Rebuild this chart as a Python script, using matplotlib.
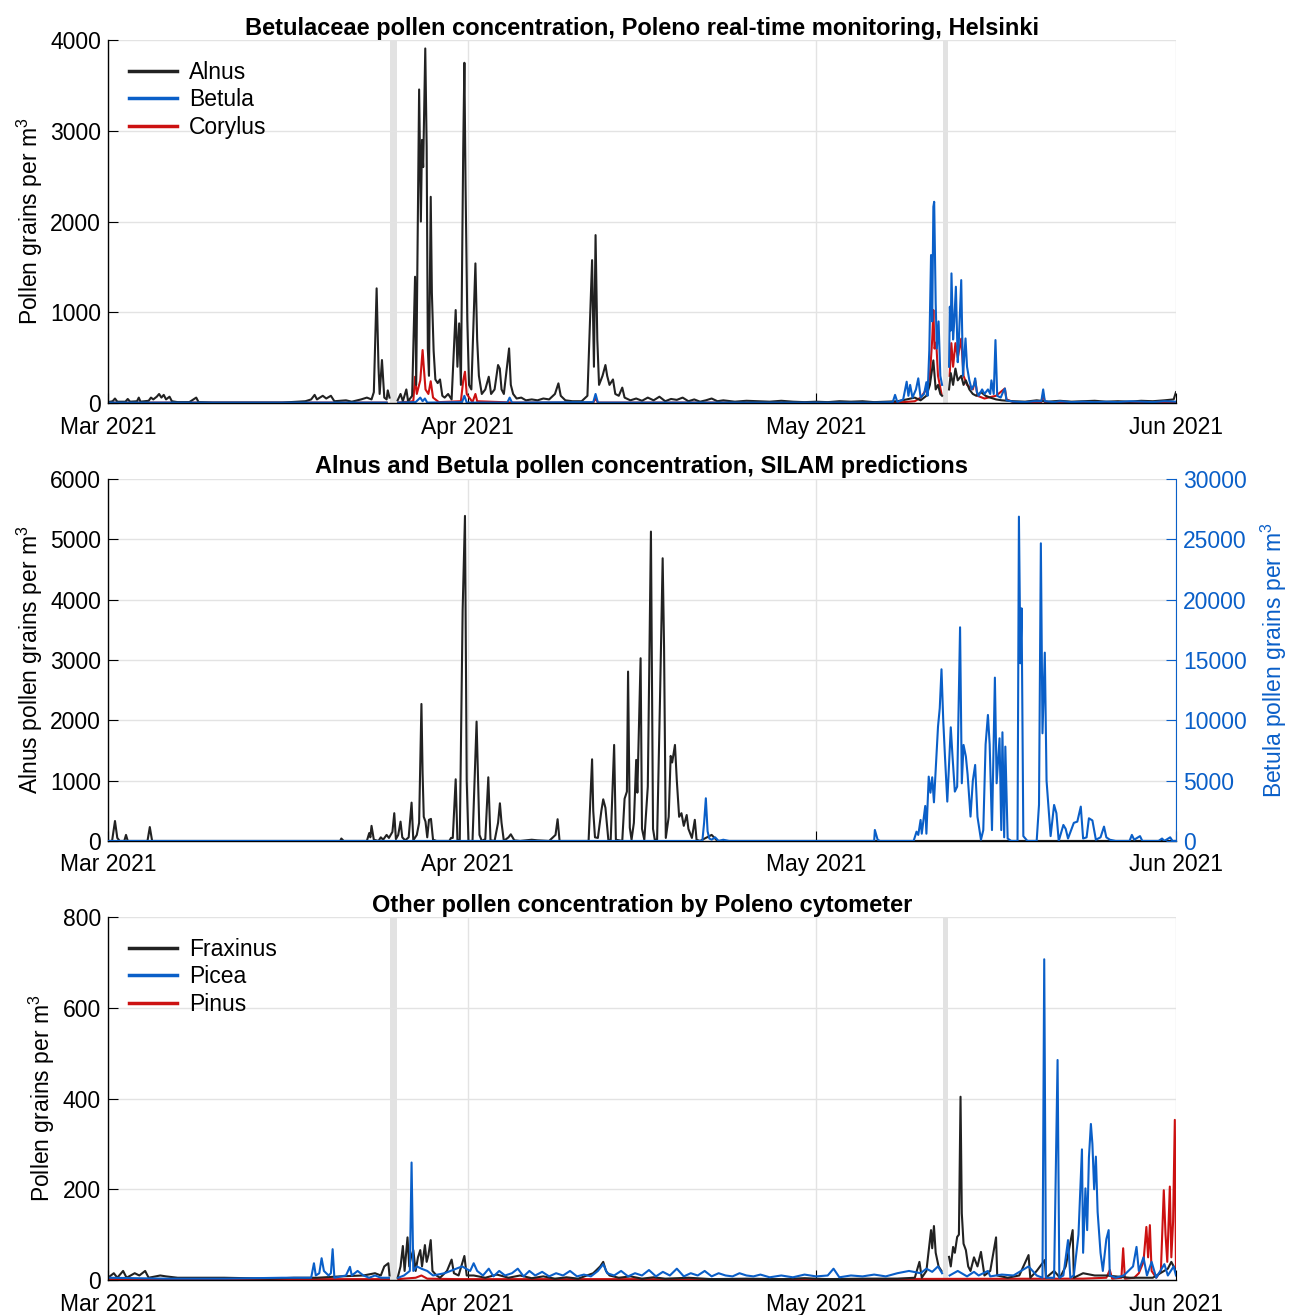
import numpy as np
import matplotlib
matplotlib.use("Agg")
import matplotlib.pyplot as plt

plt.rcParams['font.family'] = ['Liberation Sans', 'DejaVu Sans']
plt.rcParams['mathtext.fontset'] = 'custom'
plt.rcParams['mathtext.rm'] = 'Liberation Sans'
plt.rcParams['mathtext.it'] = 'Liberation Sans:italic'

nan = np.nan

# x values are days since 1 Mar 2021
month_ticks = [0, 31, 61, 92]
month_labels = ['Mar 2021', 'Apr 2021', 'May 2021', 'Jun 2021']
gap_days = [(24.3, 24.9), (71.9, 72.4)]

# ---- panel 1: Poleno Betulaceae ----
alnus_day = [0.0, 0.4, 0.6, 0.8, 1.5, 1.7, 1.9, 2.5, 2.65, 2.8, 3.5, 3.7, 3.9, 4.2, 4.4, 4.6, 4.8, 5.0, 5.3, 5.5,
             6.0, 7.0, 7.6, 7.8, 9, 12, 15, 17.0, 17.5, 17.8, 18.0, 18.5, 18.8, 19.2, 19.5, 20.5, 21.0, 21.8, 22.3,
             22.7, 22.9, 23.14, 23.3, 23.4, 23.6, 23.8, 24.0, 24.1, 24.25, 24.6, 24.95, 25.2, 25.4, 25.7, 25.85,
             26.2, 26.45, 26.55, 26.8, 26.95, 27.05, 27.15, 27.33, 27.45, 27.55, 27.65, 27.8, 27.9, 28.05, 28.2,
             28.4, 28.6, 28.8, 29.0, 29.3, 29.6, 29.95, 30.1, 30.25, 30.4, 30.6, 30.7, 30.8, 30.95, 31.1, 31.3,
             31.65, 31.8, 31.95, 32.2, 32.5, 32.8, 33.0, 33.3, 33.6, 33.75, 33.9, 34.1, 34.55, 34.7, 34.9, 35.2,
             35.6, 36, 36.5, 37, 37.5, 38.0, 38.5, 38.8, 39.0, 39.4, 40, 40.8, 41.3, 41.7, 41.86, 42.0, 42.15, 42.3,
             42.6, 42.85, 43.0, 43.2, 43.5, 43.7, 44.0, 44.3, 44.5, 45, 45.5, 46, 46.5, 47, 47.5, 48, 48.5, 49,
             49.5, 50, 50.5, 51, 51.5, 52, 52.5, 53, 54, 55, 56, 57, 58, 59, 60, 61, 62, 63, 64, 65, 66, 67, 68,
             68.8, 69.5, 70.0, 70.5, 70.8, 71.1, 71.3,
             71.5, 71.7, 71.85, 72.1, 72.45, 72.6, 72.8, 73.0, 73.2, 73.5, 73.7, 73.9, 74.2, 74.5, 74.8, 75.2,
             75.6, 76, 76.5, 77, 78, 79, 80, 81, 82, 83, 84, 85, 86, 87, 88, 89, 90, 91, 91.8, 92]
alnus_val = [10, 20, 50, 15, 15, 45, 15, 20, 60, 15, 25, 60, 40, 70, 100, 60, 90, 40, 70, 20,
             10, 10, 60, 10, 5, 5, 5, 20, 40, 90, 40, 80, 50, 80, 20, 30, 15, 40, 60,
             40, 120, 1264, 400, 100, 474, 60, 40, 140, 60, nan, 30, 100, 20, 150, 20,
             80, 1392, 200, 3456, 2000, 2900, 2600, 3908, 2824, 600, 300, 2273, 1212, 577, 260,
             220, 260, 80, 60, 100, 40, 1025, 400, 878, 200, 2800, 3750, 2400, 915, 200, 150,
             1539, 700, 300, 100, 150, 290, 100, 150, 419, 380, 150, 100, 602, 200, 100, 50,
             60, 30, 40, 30, 50, 40, 100, 217, 80, 30, 20, 20, 80, 1575, 400, 1851, 700, 200,
             300, 419, 300, 200, 260, 100, 80, 170, 60, 30, 50, 25, 60, 30, 70, 20, 45, 35,
             60, 20, 40, 15, 30, 50, 20, 30, 15, 25, 20, 15, 25, 15, 10, 15, 10, 20, 15, 20, 10, 15, 20,
             40, 60, 30, 80, 200, 470, 150,
             200, 100, 80, nan, 150, 330, 200, 380, 250, 300, 200, 250, 150, 100, 80, 120,
             80, 60, 40, 30, 20, 15, 30, 15, 25, 15, 20, 25, 15, 20, 15, 25, 20, 30, 40, 120]

betula_day = [0, 10, 20, 24.0, 24.6, 25.0, 26.5, 26.9, 27.1, 27.3, 27.5, 30.5, 30.7, 30.9, 34.4, 34.6, 34.8,
              41.8, 42.0, 42.2, 50, 60, 66, 67.6, 67.8, 68.0, 68.5, 68.8, 68.95, 69.1, 69.3, 69.6, 69.8, 70.0,
              70.3, 70.5, 70.6, 70.75, 70.9, 71.0, 71.1, 71.17, 71.3, 71.4, 71.55, 71.7, 71.85, 72.1, 72.45,
              72.52, 72.6, 72.66, 72.8, 72.9, 73.04, 73.2, 73.3, 73.5, 73.65, 73.87, 74.0, 74.2, 74.4, 74.6,
              74.7, 74.85, 75.0, 75.3, 75.5, 75.8, 76.0, 76.1, 76.3, 76.45, 76.6, 76.9, 77.1, 77.26, 77.4, 78,
              79, 79.8, 80.4, 80.56, 80.7, 81.5, 82, 83, 84, 85, 86, 87, 88, 89, 90, 91, 92]
betula_val = [5, 5, 5, 5, nan, 5, 10, 60, 20, 50, 5, 10, 80, 5, 5, 60, 5,
              10, 100, 5, 5, 5, 5, 10, 90, 10, 40, 235, 80, 200, 60, 150, 272, 60,
              100, 230, 80, 584, 1631, 900, 2163, 2218, 1100, 600, 900, 300, 200, nan, 400,
              1062, 800, 1429, 700, 900, 1282, 450, 700, 1355, 300, 712, 400, 250, 150, 200,
              272, 120, 80, 150, 100, 150, 100, 250, 100, 694, 80, 60, 120, 160, 30, 15,
              10, 20, 20, 150, 20, 10, 20, 10, 15, 10, 15, 10, 20, 15, 10, 20, 15]

corylus_day = [0, 10, 20, 24.0, 24.6, 25.0, 26.3, 26.45, 26.6, 26.9, 27.1, 27.2, 27.35, 27.6, 27.8, 28.0, 28.5,
               30.4, 30.6, 30.75, 30.9, 31.4, 31.65, 31.8, 35, 41.8, 42.0, 42.2, 50, 60, 68, 69.5, 70.0, 70.5,
               70.8, 71.0, 71.1, 71.2, 71.35, 71.5, 71.8, 72.1, 72.5, 72.65, 72.8, 73.0, 73.2, 73.5, 73.7, 74.0,
               74.5, 74.7, 74.9, 75.5, 76.5, 77.26, 77.4, 78, 80.4, 80.56, 80.7, 82, 86, 92]
corylus_val = [5, 5, 5, 5, nan, 5, 20, 290, 100, 250, 584, 400, 150, 100, 240, 60, 10,
               20, 250, 345, 100, 10, 100, 20, 5, 5, 50, 5, 5, 5, 5, 20, 60, 150,
               300, 700, 1025, 600, 668, 300, 100, nan, 300, 660, 400, 660, 500, 710, 300, 200,
               150, 253, 80, 50, 80, 160, 40, 10, 10, 100, 10, 5, 5, 5]

# ---- panel 2: SILAM ----
silam_alnus_day = [0.0, 0.35, 0.6, 0.8, 1.0, 1.4, 1.55, 1.7, 3.4, 3.6, 3.8, 20.0, 20.1, 20.3, 22.3, 22.5, 22.6,
                   22.7, 22.9, 23.3, 23.5, 23.7, 24.0, 24.2, 24.5, 24.66, 24.8, 25.0, 25.2, 25.35, 25.6, 25.9,
                   26.15, 26.3, 26.6, 26.8, 27.0, 27.1, 27.2, 27.35, 27.5, 27.65, 27.82, 28.0, 28.3, 29.4, 29.55,
                   29.7, 29.95, 30.1, 30.3, 30.55, 30.75, 30.9, 31.05, 31.4, 31.75, 32.0, 32.2, 32.5, 32.76,
                   32.95, 33.3, 33.6, 33.76, 33.9, 34.1, 34.5, 34.7, 35.0, 35.5, 36.5, 37, 38.0, 38.55, 38.73,
                   38.9, 41.4, 41.7, 41.8, 41.95, 42.2, 42.5, 42.66, 42.85, 43.1, 43.3, 43.6, 43.75, 44.3, 44.5,
                   44.7, 44.8, 44.95, 45.1, 45.3, 45.5, 45.6, 45.88, 46.0, 46.2, 46.5, 46.77, 46.95, 47.1, 47.3,
                   47.55, 47.78, 47.9, 48.05, 48.3, 48.47, 48.6, 48.84, 49.0, 49.2, 49.4, 49.6, 49.85, 50.0,
                   50.3, 50.55, 50.7, 51.0, 51.5, 52, 52.5, 60, 92]
silam_alnus_val = [0, 0, 330, 50, 0, 0, 100, 0, 0, 230, 0, 0, 40, 0, 0, 130, 60,
                   250, 20, 0, 60, 20, 100, 50, 150, 460, 30, 100, 320, 60, 10, 60,
                   635, 10, 100, 300, 2270, 1120, 400, 320, 60, 350, 365, 20, 0, 0, 50,
                   50, 1022, 20, 0, 3830, 5387, 1000, 0, 0, 1978, 100, 0, 30, 1055,
                   10, 0, 300, 624, 300, 0, 60, 110, 10, 0, 20, 10, 0, 100, 360,
                   0, 0, 1353, 500, 60, 50, 500, 690, 550, 20, 0, 1591, 20, 0, 700,
                   818, 2807, 220, 20, 300, 1343, 800, 3028, 200, 20, 900, 5127, 200, 20, 20,
                   2337, 4685, 3221, 50, 400, 1409, 1300, 1591, 1000, 400, 460, 250, 430, 200,
                   50, 350, 20, 0, 50, 100, 0, 0, 0]

silam_betula_day = [0, 51.2, 51.35, 51.5, 51.65, 51.8, 52.0, 52.3, 52.6, 53, 53.5, 66.0, 66.06, 66.3, 66.5,
                    69.4, 69.65, 69.8, 70.0, 70.1, 70.4, 70.5, 70.7, 70.85, 71.0, 71.15, 71.5, 71.65, 71.8,
                    71.95, 72.1, 72.3, 72.6, 72.75, 72.95, 73.15, 73.4, 73.55, 73.7, 73.9, 74.05, 74.3, 74.5,
                    74.7, 74.9, 75.2, 75.4, 75.6, 75.8, 75.95, 76.15, 76.4, 76.55, 76.8, 76.95, 77.05, 77.2,
                    77.3, 77.5, 77.8, 78.35, 78.47, 78.6, 78.7, 78.85, 79.2, 80.0, 80.2, 80.36, 80.5, 80.7,
                    80.85, 81.2, 81.5, 81.7, 81.9, 82.3, 82.5, 82.7, 83.2, 83.5, 83.8, 84.0, 84.3, 84.5, 84.8,
                    85.1, 85.5, 85.8, 86.0, 86.3, 86.8, 88.0, 88.2, 88.4, 88.9, 89.1, 90.5, 90.8, 91.0, 91.5,
                    91.7, 92]
silam_betula_val = [0, 0, 1500, 3536, 800, 200, 100, 300, 0, 100, 0, 0, 911, 100, 0,
                    0, 770, 500, 1740, 600, 2900, 600, 5330, 4000, 5275, 3200, 9473, 11000, 14224,
                    10000, 7000, 3260, 9418, 7000, 4088, 4500, 17704, 4778, 7955, 7000, 5500, 2016, 5000,
                    6297, 2000, 100, 900, 8000, 10440, 8000, 900, 13534, 4778, 8507, 900, 9004, 300,
                    7816, 200, 0, 0, 26874, 14722, 19279, 400, 0, 0, 3000, 24664, 8921, 15605,
                    5000, 400, 2983, 2300, 0, 1326, 1000, 200, 1500, 1600, 2845, 200, 300, 1878, 1700,
                    100, 300, 1188, 300, 100, 0, 0, 500, 100, 400, 0, 0, 200, 0, 300,
                    0, 0]

# ---- panel 3: other pollen ----
fraxinus_day = [0, 0.5, 0.8, 1.3, 1.6, 2.3, 2.7, 3.2, 3.5, 4.5, 5, 6, 8, 10, 14, 16, 18, 20, 22, 23.0, 23.5,
                23.8, 24.15, 24.25, 24.6, 24.95, 25.2, 25.4, 25.55, 25.8, 25.95, 26.1, 26.3, 26.5, 26.7, 26.9,
                27.05, 27.3, 27.45, 27.6, 27.8, 27.95, 28.3, 28.6, 29.2, 29.6, 29.8, 30.2, 30.7, 30.9, 31.5,
                32.5, 33.5, 34.5, 35.5, 36.5, 37.5, 38.5, 39.5, 40.5, 41.8, 42.4, 42.66, 42.9, 43.2, 44, 45, 46,
                47, 48, 50, 52, 55, 58, 60, 62, 65, 68, 69.5, 69.9,
                70.1, 70.5, 70.9, 71.0, 71.15, 71.3, 71.55, 71.8, 72.1, 72.45, 72.6, 72.8, 72.95, 73.15, 73.3,
                73.44, 73.55, 73.7, 73.9, 74.1, 74.3, 74.6, 74.9, 75.2, 75.5, 76.0, 76.5, 76.6, 77.5, 78.5,
                79.3, 79.45, 80.0, 80.7, 80.8, 81.5, 82.0, 82.5, 83.1, 83.2, 84, 85, 86, 88, 90, 91.3, 91.6, 92]
fraxinus_val = [5, 15, 5, 20, 5, 15, 10, 20, 5, 10, 8, 5, 5, 5, 3, 5, 5, 8, 10, 15, 10,
                30, 37, 10, nan, 5, 30, 75, 20, 94, 30, 50, 66, 20, 50, 66,
                30, 77, 40, 55, 88, 20, 10, 5, 20, 45, 15, 10, 53, 10, 10,
                5, 12, 5, 10, 4, 8, 3, 6, 3, 15, 30, 40, 20, 10, 5, 8, 3,
                6, 3, 5, 2, 3, 2, 4, 2, 3, 3, 5, 40,
                5, 20, 110, 70, 119, 60, 30, 20, nan, 51, 30, 73, 60, 95, 100,
                404, 147, 80, 66, 30, 20, 50, 30, 62, 10, 20, 94, 10, 5, 10,
                55, 5, 20, 44, 5, 20, 5, 30, 110, 5, 15, 10, 10, 5, 5, 25, 40, 20]

picea_day = [0, 5, 10, 15, 17.5, 17.74, 17.9, 18.2, 18.4, 18.6, 19.0, 19.2, 19.35, 19.5, 20.5, 20.84, 21.0,
             21.5, 22, 22.5, 23, 23.5, 24.2, 24.6, 25, 25.5, 26.0, 26.15, 26.3, 26.6, 27, 27.5, 28, 29, 30.5,
             31.2, 31.5, 31.8, 32.3, 32.8, 33.2, 33.7, 34.2, 34.8, 35.3, 35.8, 36.3, 36.8, 37.4, 38.0, 38.6,
             39.2, 39.8, 40.4, 41.0, 41.6, 42.2, 42.66, 43.0, 43.6, 44.2, 44.8, 45.4, 46.0, 46.6, 47.2, 47.8,
             48.4, 49.0, 49.6, 50.2, 50.8, 51.4, 52.0, 52.6, 53.2, 53.8, 54.4, 55.0, 55.6, 56.2, 57.0, 58.0,
             59.0, 60.0, 61.0, 62.0, 62.5, 63.0, 64.0, 65.0, 66.0, 67.0, 68.0, 69.0, 70.0, 70.5, 71.0, 71.5,
             71.85, 72.1, 72.5, 73.2, 74, 74.6, 75, 75.8, 76, 77, 78, 79.3, 80.0, 80.5, 80.65, 80.8, 81.5, 81.8,
             81.95, 82.3, 82.7, 82.9, 83.2, 83.6, 83.9, 84.0, 84.2, 84.35, 84.5, 84.67, 84.8, 84.95, 85.1, 85.25,
             85.5, 85.7, 86.0, 86.2, 86.3, 86.8, 87.5, 88.3, 88.6, 88.8, 89.2, 89.5, 89.9, 90.3, 91.0, 91.3,
             91.8, 92]
picea_val = [5, 3, 3, 5, 5, 37, 10, 15, 48, 20, 10, 15, 68, 5, 10, 29, 10,
             20, 10, 5, 10, 5, 5, nan, 5, 10, 20, 259, 20, 30, 25, 20, 10, 15, 30,
             20, 37, 20, 10, 25, 8, 20, 10, 15, 25, 8, 20, 10, 18, 8, 15,
             10, 20, 8, 12, 8, 20, 35, 15, 10, 20, 8, 15, 10, 22, 8, 18,
             10, 25, 8, 15, 10, 20, 8, 15, 10, 8, 15, 10, 8, 12, 6, 10,
             6, 12, 8, 10, 25, 6, 10, 8, 12, 8, 15, 20, 15, 25, 18, 30,
             15, nan, 10, 20, 8, 18, 10, 20, 8, 12, 10, 30, 10, 5, 707, 5, 5, 485,
             5, 10, 88, 5, 10, 100, 288, 60, 202, 110, 270, 344, 300, 200, 272, 150,
             60, 20, 90, 110, 10, 5, 10, 30, 73, 20, 50, 10, 40, 5, 35, 10,
             30, 10]

pinus_day = [0, 20, 24.2, 24.6, 25, 26.5, 27, 27.5, 30, 40, 60, 84, 86.0, 86.3, 86.5, 87.3, 87.45, 87.6,
             88.4, 88.8, 89.2, 89.45, 89.6, 89.75, 89.9, 90.3, 90.7, 90.95, 91.1, 91.25, 91.47, 91.6, 91.75,
             91.9, 92.0]
pinus_val = [2, 2, 2, nan, 2, 5, 10, 3, 2, 2, 2, 3, 5, 22, 3, 5, 70, 3,
             5, 15, 40, 117, 50, 121, 20, 5, 20, 198, 100, 40, 206, 50, 128,
             353, 20]

c_black = '#222222'
c_blue = '#0a5fc8'
c_red = '#cc1111'
c_grid = '#e3e3e3'
fs = 16.5
tfs = 17

fig = plt.figure(figsize=(12.92, 13.15), dpi=100)
ax1 = fig.add_axes([0.0836, 0.6935, 0.8266, 0.2760])
ax2 = fig.add_axes([0.0836, 0.3605, 0.8266, 0.2753])
ax3 = fig.add_axes([0.0836, 0.0266, 0.8266, 0.2760])


def style(ax, ymax, ystep):
    ax.set_xlim(0, 92)
    ax.set_ylim(0, ymax)
    ax.set_xticks(month_ticks)
    ax.set_xticklabels(month_labels)
    ax.set_yticks(np.arange(0, ymax + 1, ystep))
    ax.grid(True, color=c_grid, linewidth=1.0)
    ax.set_axisbelow(True)
    for s in ['top', 'right']:
        ax.spines[s].set_visible(False)
    ax.spines['left'].set_linewidth(1.0)
    ax.spines['bottom'].set_linewidth(1.0)
    ax.tick_params(direction='in', length=7, labelsize=fs, pad=5)
    ax.tick_params(axis='x', pad=9)


def bands(ax):
    for a, b in gap_days:
        ax.axvspan(a, b, color='#e2e2e2', lw=0, zorder=0.5)


lw = 1.5
style(ax1, 4000, 1000)
bands(ax1)
ax1.plot(corylus_day, corylus_val, color=c_red, lw=lw)
ax1.plot(alnus_day, alnus_val, color=c_black, lw=lw)
ax1.plot(betula_day, betula_val, color=c_blue, lw=lw)
h1, = ax1.plot([], [], color=c_black, lw=2.5)
h2, = ax1.plot([], [], color=c_blue, lw=2.5)
h3, = ax1.plot([], [], color=c_red, lw=2.5)
ax1.legend([h1, h2, h3], ['Alnus', 'Betula', 'Corylus'], loc='upper left', frameon=False,
           fontsize=fs, handlelength=2.1, handletextpad=0.55, labelspacing=0.2, borderaxespad=0.5)
ax1.set_ylabel('Pollen grains per m$^3$', fontsize=fs, labelpad=4)
ax1.set_title('Betulaceae pollen concentration, Poleno real-time monitoring, Helsinki',
              fontsize=tfs, fontweight='bold', pad=4)

style(ax2, 6000, 1000)
ax2.plot(silam_alnus_day, silam_alnus_val, color=c_black, lw=lw)
ax2.set_ylabel('Alnus pollen grains per m$^3$', fontsize=fs, labelpad=4)
ax2.set_title('Alnus and Betula pollen concentration, SILAM predictions',
              fontsize=tfs, fontweight='bold', pad=4)
ax2r = ax2.twinx()
ax2r.set_ylim(0, 30000)
ax2r.set_yticks(np.arange(0, 30001, 5000))
ax2r.plot(silam_betula_day, silam_betula_val, color=c_blue, lw=lw)
for s in ['top', 'left', 'bottom']:
    ax2r.spines[s].set_visible(False)
ax2r.spines['right'].set_color(c_blue)
ax2r.tick_params(direction='in', length=7, labelsize=fs, colors=c_blue, pad=5)
ax2r.set_ylabel('Betula pollen grains per m$^3$', fontsize=fs, color=c_blue, labelpad=9)

style(ax3, 800, 200)
bands(ax3)
ax3.plot(pinus_day, pinus_val, color=c_red, lw=lw)
ax3.plot(fraxinus_day, fraxinus_val, color=c_black, lw=lw)
ax3.plot(picea_day, picea_val, color=c_blue, lw=lw)
g1, = ax3.plot([], [], color=c_black, lw=2.5)
g2, = ax3.plot([], [], color=c_blue, lw=2.5)
g3, = ax3.plot([], [], color=c_red, lw=2.5)
ax3.legend([g1, g2, g3], ['Fraxinus', 'Picea', 'Pinus'], loc='upper left', frameon=False,
           fontsize=fs, handlelength=2.1, handletextpad=0.55, labelspacing=0.2, borderaxespad=0.5)
ax3.set_ylabel('Pollen grains per m$^3$', fontsize=fs, labelpad=4)
ax3.set_title('Other pollen concentration by Poleno cytometer',
              fontsize=tfs, fontweight='bold', pad=4)

fig.savefig('out.png', dpi=100)
